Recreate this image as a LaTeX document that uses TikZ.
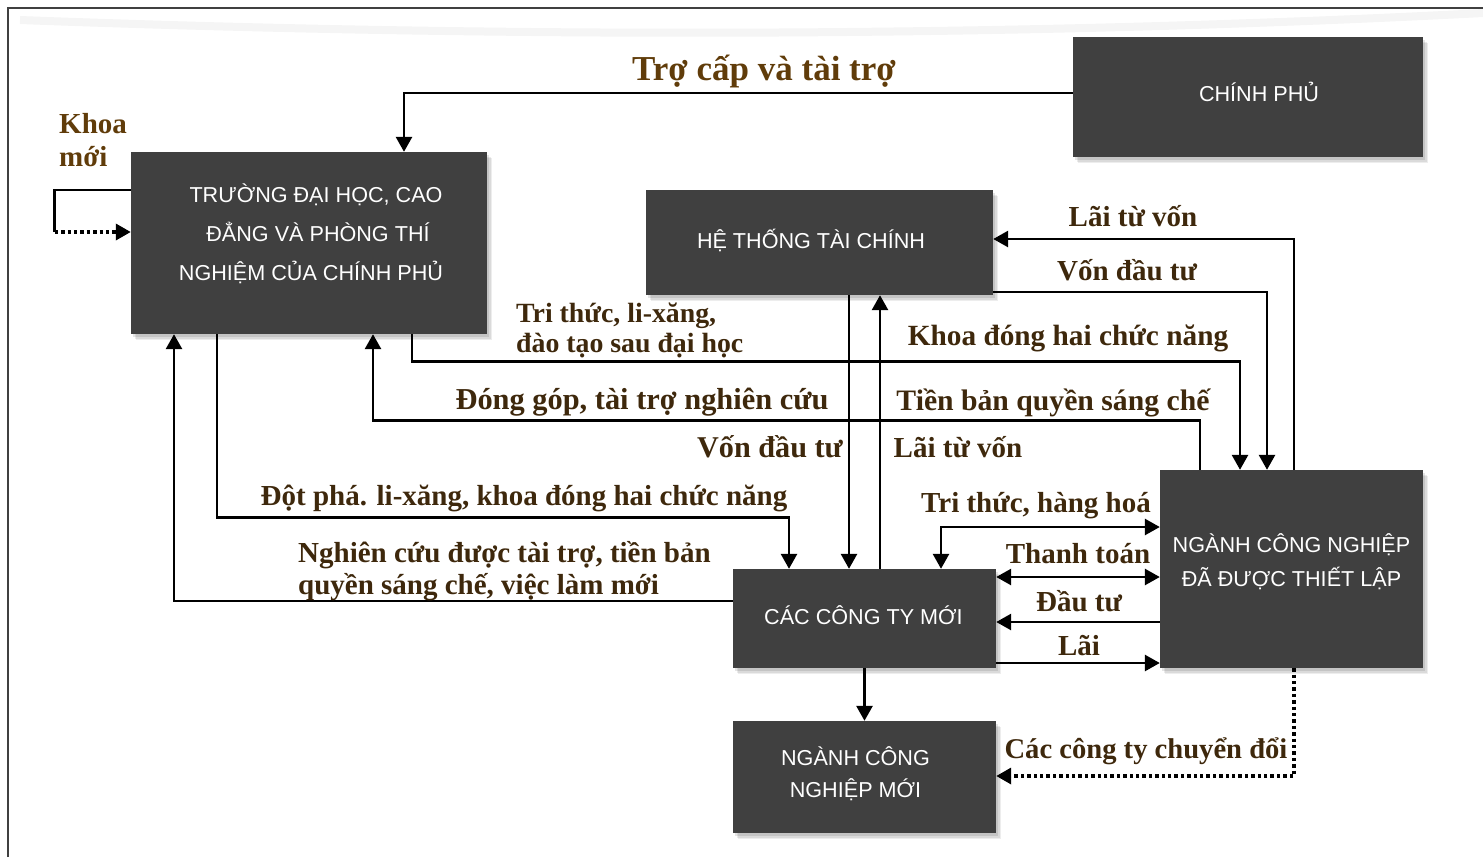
\documentclass[tikz,border=0pt]{standalone}
\usepackage{fontspec}
\setmainfont{Liberation Serif}
\newfontfamily\boxfont{Liberation Sans}
\usetikzlibrary{arrows.meta,shadows}
\definecolor{boxgray}{RGB}{64,64,64}
\definecolor{lblbrown}{RGB}{62,40,12}
\definecolor{lblbrownlight}{RGB}{96,60,10}
\newcommand{\bxt}[3]{\hspace*{#1}\raisebox{#2}[\height][\depth]{\begin{tabular}{@{}c@{}}#3\end{tabular}}}
\tikzset{
  softshadow/.style={
    general shadow={fill=black, opacity=0.07, shadow xshift=5pt, shadow yshift=-6pt},
    general shadow={fill=black, opacity=0.08, shadow xshift=3.5pt, shadow yshift=-4.5pt},
    general shadow={fill=black, opacity=0.10, shadow xshift=2pt, shadow yshift=-3pt}},
  box/.style={fill=boxgray, text=white, inner sep=0pt, align=center, softshadow,
    font=\boxfont\fontsize{21.6}{34}\selectfont},
  lbl/.style={text=lblbrown, inner sep=0pt, yshift=-2.5pt, font=\bfseries\fontsize{29}{32}\selectfont},
  lblup/.style={lbl, yshift=2.5pt},
  conn/.style={line width=2.8pt, draw=black},
  tip/.tip={Triangle[length=15pt,width=16pt]},
  arr/.style={conn, -tip},
  arrboth/.style={conn, tip-tip},
  dotconn/.style={line width=3.4pt, dash pattern=on 3.4pt off 3pt},
  dotarr/.style={dotconn, -tip},
}
\begin{document}
\begin{tikzpicture}[x=1pt,y=-1pt]
\useasboundingbox (0,0) rectangle (1483,857);
% frame and swoosh
\draw[black!4, line width=8pt] (20,20) .. controls (500,38) and (1000,38) .. (1483,13);
\draw[black!75, line width=2pt] (8,857) -- (8,8) -- (1483,8);

% boxes
\node[box, minimum width=356pt, minimum height=182pt, font=\boxfont\fontsize{21.6}{39}\selectfont] (Tr) at (309,243)
  {\bxt{0pt}{9pt}{\hspace*{14pt}TRƯỜNG ĐẠI HỌC, CAO\\\hspace*{18pt}ĐẲNG VÀ PHÒNG THÍ\\\hspace*{4pt}NGHIỆM CỦA CHÍNH PHỦ}};
\node[box, minimum width=350pt, minimum height=120pt] (CP) at (1248,97) {\bxt{22pt}{2pt}{CHÍNH PHỦ}};
\node[box, minimum width=347pt, minimum height=105pt] (HT) at (819.5,242.5) {\bxt{-17pt}{1pt}{HỆ THỐNG TÀI CHÍNH}};
\node[box, minimum width=263pt, minimum height=198pt] (NCN) at (1291.5,569) {\bxt{0pt}{6pt}{NGÀNH CÔNG NGHIỆP\\ĐÃ ĐƯỢC THIẾT LẬP}};
\node[box, minimum width=263pt, minimum height=99pt] (CC) at (864.5,618.5) {\bxt{-2pt}{1pt}{CÁC CÔNG TY MỚI}};
\node[box, minimum width=263pt, minimum height=112pt, font=\boxfont\fontsize{21.6}{32}\selectfont] (NM) at (864.5,777) {\bxt{-18pt}{2pt}{NGÀNH CÔNG\\NGHIỆP MỚI}};

% connectors
\draw[arr] ([yshift=4pt]CP.west) -| ([xshift=95pt]Tr.north);
\draw[conn] ([yshift=53pt]Tr.west) -- ++(-76,0) -- ++(0,42) coordinate (k1);
\draw[dotarr] (k1) -- ([yshift=11pt]Tr.west);
\draw[arr] ([xshift=2.5pt]NCN.north) |- ([yshift=3.5pt]HT.east);
\draw[arr] ([yshift=-49.5pt]HT.east) -| ([xshift=-24.5pt]NCN.north);
\draw[arr] ([xshift=103pt]Tr.south) -- ++(0,27) -| ([xshift=-51.5pt]NCN.north);
\draw[arr] ([xshift=-91.5pt]NCN.north) -- ++(0,-49) -| ([xshift=64pt]Tr.south);
\draw[arr] ([xshift=29.5pt]HT.south) -- ([xshift=-15.5pt]CC.north);
\draw[arr] ([xshift=15.5pt]CC.north) -- ([xshift=60.5pt]HT.south);
\draw[arr] ([xshift=-92pt]Tr.south) -- ++(0,183) -| ([xshift=-75.5pt]CC.north);
\draw[arr] ([yshift=17.5pt]CC.west) -| ([xshift=-135pt]Tr.south);
\draw[arrboth] ([xshift=76.5pt]CC.north) |- ([yshift=42pt]NCN.west);
\draw[arrboth] ([yshift=41.5pt]CC.east) -- ([yshift=-8pt]NCN.west);
\draw[arr] ([yshift=-53pt]NCN.west) -- ([yshift=-3.5pt]CC.east);
\draw[arr] ([yshift=-44.5pt]CC.east) -- ([yshift=-94pt]NCN.west);
\draw[arr] (CC.south) -- (NM.north);
\draw[dotarr] ([xshift=2.5pt]NCN.south) |- ([yshift=1pt]NM.east);

% labels
\node[lbl, text=lblbrownlight, font=\bfseries\fontsize{35}{37}\selectfont] (l1) at (764,68.5) {Trợ cấp và tài trợ};
\node[lblup, text=lblbrownlight, align=left, anchor=west, font=\bfseries\fontsize{29}{33}\selectfont] (l2) at (59,140) {Khoa\\mới};
\node[lblup] (l3) at (1133,216) {Lãi từ vốn};
\node[lblup] (l4) at (1127,270) {Vốn đầu tư};
\node[lbl, align=left, anchor=west, font=\bfseries\fontsize{27.8}{30}\selectfont] (l5) at (516,328) {Tri thức, li-xăng,\\đào tạo sau đại học};
\node[lbl, font=\bfseries\fontsize{29.3}{32}\selectfont] (l6) at (1068,336) {Khoa đóng hai chức năng};
\node[lbl, font=\bfseries\fontsize{30.4}{32}\selectfont] (l7) at (642,400) {Đóng góp, tài trợ nghiên cứu};
\node[lbl, font=\bfseries\fontsize{29.7}{32}\selectfont] (l8) at (1053,400) {Tiền bản quyền sáng chế};
\node[lblup, anchor=east, font=\bfseries\fontsize{30.2}{32}\selectfont] (l9) at (843,447) {Vốn đầu tư};
\node[lblup] (l10) at (958,447) {Lãi từ vốn};
\node[lbl] (l11) at (524,496) {Đột phá. li-xăng, khoa đóng hai chức năng};
\node[lbl, align=left, anchor=west] (l12) at (298,569) {Nghiên cứu được tài trợ, tiền bản\\quyền sáng chế, việc làm mới};
\node[lbl] (l13) at (1036,503) {Tri thức, hàng hoá};
\node[lblup] (l14) at (1078,554) {Thanh toán};
\node[lblup] (l15) at (1079,601) {Đầu tư};
\node[lblup] (l16) at (1079,646) {Lãi};
\node[lbl, font=\bfseries\fontsize{28.6}{32}\selectfont] (l17) at (1146,749) {Các công ty chuyển đổi};
\end{tikzpicture}
\end{document}
